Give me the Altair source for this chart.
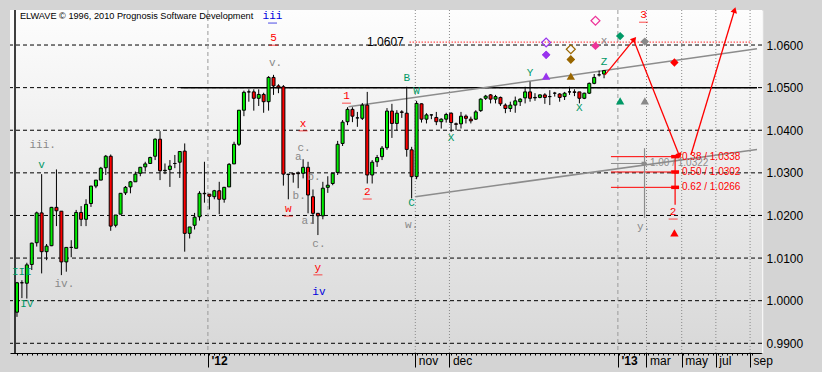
import json
import altair as alt
import pandas as pd

# ---------------- data ----------------
opens = [0.9973, 1.0042, 1.0041, 1.0085, 1.0136, 1.0206, 1.0115, 1.0129, 1.0219, 1.0210,
         1.0091, 1.0125, 1.0123, 1.0207, 1.0191, 1.0228, 1.0269, 1.0283, 1.0312, 1.0339,
         1.0177, 1.0203, 1.0253, 1.0267, 1.0279, 1.0299, 1.0314, 1.0322, 1.0339, 1.0379,
         1.0305, 1.0308, 1.0322, 1.0325, 1.0351, 1.0158, 1.0177, 1.0197, 1.0252, 1.0250,
         1.0244, 1.0258, 1.0238, 1.0267, 1.0321, 1.0367, 1.0447, 1.0490, 1.0490, 1.0475,
         1.0484, 1.0467, 1.0524, 1.0504, 1.0502, 1.0296, 1.0298, 1.0299, 1.0299, 1.0313,
         1.0244, 1.0205, 1.0199, 1.0266, 1.0275, 1.0301, 1.0369, 1.0420, 1.0449, 1.0429,
         1.0428, 1.0459, 1.0295, 1.0326, 1.0338, 1.0359, 1.0445, 1.0416, 1.0443, 1.0440,
         1.0354, 1.0291, 1.0462, 1.0426, 1.0436, 1.0430, 1.0420, 1.0426, 1.0440, 1.0415,
         1.0415, 1.0433, 1.0426, 1.0426, 1.0446, 1.0475, 1.0483, 1.0473, 1.0477, 1.0459,
         1.0451, 1.0459, 1.0467, 1.0476, 1.0490, 1.0477, 1.0477, 1.0483, 1.0479, 1.0487,
         1.0485, 1.0479, 1.0490, 1.0490, 1.0490, 1.0475, 1.0487, 1.0510, 1.0530, 1.0532]
highs = [1.0044, 1.0048, 1.0089, 1.0136, 1.0209, 1.0297, 1.0133, 1.0220, 1.0308, 1.0210,
         1.0126, 1.0142, 1.0213, 1.0222, 1.0238, 1.0269, 1.0283, 1.0314, 1.0342, 1.0343,
         1.0201, 1.0252, 1.0269, 1.0281, 1.0303, 1.0314, 1.0326, 1.0338, 1.0381, 1.0398,
         1.0322, 1.0330, 1.0342, 1.0351, 1.0369, 1.0173, 1.0206, 1.0257, 1.0326, 1.0250,
         1.0260, 1.0279, 1.0267, 1.0323, 1.0373, 1.0447, 1.0493, 1.0496, 1.0496, 1.0496,
         1.0488, 1.0527, 1.0530, 1.0508, 1.0506, 1.0297, 1.0300, 1.0303, 1.0332, 1.0326,
         1.0261, 1.0206, 1.0279, 1.0292, 1.0300, 1.0375, 1.0424, 1.0454, 1.0454, 1.0443,
         1.0464, 1.0490, 1.0330, 1.0342, 1.0363, 1.0452, 1.0462, 1.0447, 1.0447, 1.0502,
         1.0361, 1.0469, 1.0463, 1.0440, 1.0437, 1.0443, 1.0428, 1.0441, 1.0442, 1.0418,
         1.0443, 1.0437, 1.0432, 1.0447, 1.0475, 1.0483, 1.0485, 1.0483, 1.0479, 1.0463,
         1.0467, 1.0479, 1.0475, 1.0502, 1.0514, 1.0487, 1.0484, 1.0487, 1.0494, 1.0490,
         1.0487, 1.0490, 1.0502, 1.0496, 1.0490, 1.0488, 1.0512, 1.0532, 1.0540, 1.0541]
lows = [0.9962, 1.0006, 1.0005, 1.0072, 1.0127, 1.0064, 1.0095, 1.0128, 1.0175, 1.0060,
        1.0068, 1.0102, 1.0123, 1.0175, 1.0175, 1.0220, 1.0264, 1.0283, 1.0295, 1.0164,
        1.0172, 1.0203, 1.0248, 1.0252, 1.0279, 1.0292, 1.0303, 1.0321, 1.0330, 1.0283,
        1.0297, 1.0267, 1.0311, 1.0288, 1.0115, 1.0146, 1.0167, 1.0188, 1.0230, 1.0214,
        1.0238, 1.0203, 1.0230, 1.0267, 1.0321, 1.0363, 1.0433, 1.0467, 1.0446, 1.0457,
        1.0441, 1.0446, 1.0483, 1.0487, 1.0270, 1.0238, 1.0277, 1.0264, 1.0287, 1.0205,
        1.0180, 1.0154, 1.0191, 1.0253, 1.0271, 1.0295, 1.0363, 1.0412, 1.0419, 1.0408,
        1.0424, 1.0275, 1.0275, 1.0314, 1.0330, 1.0354, 1.0382, 1.0400, 1.0429, 1.0338,
        1.0240, 1.0285, 1.0418, 1.0416, 1.0426, 1.0412, 1.0404, 1.0418, 1.0396, 1.0400,
        1.0404, 1.0416, 1.0416, 1.0424, 1.0443, 1.0471, 1.0463, 1.0463, 1.0457, 1.0440,
        1.0443, 1.0441, 1.0457, 1.0463, 1.0467, 1.0469, 1.0475, 1.0462, 1.0459, 1.0479,
        1.0467, 1.0471, 1.0483, 1.0480, 1.0463, 1.0473, 1.0485, 1.0508, 1.0526, 1.0522]
closes = [1.0042, 1.0042, 1.0084, 1.0135, 1.0206, 1.0115, 1.0128, 1.0219, 1.0211, 1.0091,
          1.0125, 1.0125, 1.0207, 1.0191, 1.0226, 1.0269, 1.0283, 1.0311, 1.0339, 1.0175,
          1.0201, 1.0252, 1.0266, 1.0279, 1.0297, 1.0313, 1.0321, 1.0336, 1.0379, 1.0305,
          1.0306, 1.0316, 1.0322, 1.0350, 1.0158, 1.0173, 1.0196, 1.0252, 1.0251, 1.0245,
          1.0258, 1.0238, 1.0266, 1.0320, 1.0367, 1.0447, 1.0489, 1.0490, 1.0475, 1.0484,
          1.0467, 1.0524, 1.0504, 1.0500, 1.0297, 1.0297, 1.0297, 1.0298, 1.0313, 1.0248,
          1.0205, 1.0199, 1.0264, 1.0271, 1.0299, 1.0367, 1.0419, 1.0449, 1.0433, 1.0429,
          1.0459, 1.0295, 1.0325, 1.0336, 1.0358, 1.0445, 1.0416, 1.0440, 1.0442, 1.0355,
          1.0291, 1.0463, 1.0426, 1.0436, 1.0436, 1.0420, 1.0426, 1.0437, 1.0418, 1.0414,
          1.0433, 1.0428, 1.0422, 1.0443, 1.0473, 1.0480, 1.0473, 1.0479, 1.0462, 1.0451,
          1.0459, 1.0469, 1.0473, 1.0490, 1.0475, 1.0476, 1.0483, 1.0477, 1.0479, 1.0487,
          1.0477, 1.0487, 1.0490, 1.0489, 1.0475, 1.0487, 1.0510, 1.0524, 1.0530, 1.0540]
bar_index = list(range(len(opens)))

price_levels = [0.99, 1.00, 1.01, 1.02, 1.03, 1.04, 1.05, 1.06]
tick_pos = [38.7, 80.74, 87.66, 121.8, 127.6, 134.74, 141.66, 148.6]
tick_txt = ["'12", "nov", "dec", "'13", "mar", "may", "jul", "sep"]
year_txt = ["'12", "'13"]
minor_ticks = list(range(0, 150))

# trend lines (bar index, price)
trend_x1 = [67.2, 80.74]
trend_p1 = [1.0455, 1.0244]
trend_x2 = [150.0, 150.0]
trend_p2 = [1.0591, 1.0355]

# horizontal reference levels
ref_level = [1.0500]
ref_from = [33.2]
target_level = [1.0607]
target_from = [79.6]
target_to = [149.0]

# projected retracements
fib_text = ["0.38 / 1.0338", "0.50 / 1.0302", "0.62 / 1.0266"]
fib_level = [1.0338, 1.0302, 1.0266]
alt_text = ["1.00 / 1.0322"]
alt_level = [1.0322]

# projection arrows
arrow_x1 = [119.2, 125.0, 136.6]
arrow_p1 = [1.0530, 1.0612, 1.0342]
arrow_x2 = [125.0, 134.2, 145.4]
arrow_p2 = [1.0612, 1.0342, 1.0680]
arrow_angle = [40, 159, 17]

# target markers
mk_x = [107.26, 107.26, 112.26, 112.26, 117.26, 122.26, 127.26, 133.26,
        107.26, 112.26, 122.26, 127.26, 133.26, 117.26, 107.26, 112.26]
mk_p = [1.0577, 1.0577, 1.0566, 1.0566, 1.0598, 1.0621, 1.0608, 1.0559,
        1.0527, 1.0527, 1.0469, 1.0469, 1.0159, 1.0657, 1.0606, 1.0590]
mk_shape = ["diamond", "diamond", "diamond", "diamond", "diamond", "diamond", "diamond", "diamond",
            "triangle-up", "triangle-up", "triangle-up", "triangle-up", "triangle-up",
            "diamond", "diamond", "diamond"]
mk_color = ["#9933ee", "#9933ee", "#996600", "#996600", "#ee3399", "#009966", "#888888", "#ff0000",
            "#9933ee", "#996600", "#009966", "#888888", "#ff0000",
            "#ee3399", "#9933ee", "#996600"]
mk_filled = [True, True, True, True, True, True, True, True,
             True, True, True, True, True,
             False, False, False]

# wave labels
wl_text = ["iii", "5", "v.", "iii.", "v", "III", "IV", "iv.", "w", "x", "y", "iv",
           "c.", "a", "b.", "b.", "a.", "c.", "1", "2", "B", "W", "C", "w.",
           "X", "Y", "X", "Z", "x", "3", "2", "y."]
wl_x = [51.8, 52.0, 52.4, 5.2, 5.0, 1.0, 2.0, 9.6, 55.0, 58.0, 61.0, 61.2,
        58.2, 57.0, 57.2, 60.2, 59.0, 61.2, 66.8, 71.0, 79.0, 81.0, 80.0, 80.0,
        88.0, 104.0, 114.0, 119.0, 119.0, 127.0, 133.0, 127.0]
wl_p = [1.0668, 1.0616, 1.0558, 1.0365, 1.0318, 1.0067, 0.9992, 1.0039, 1.0215, 1.0415, 1.0077, 1.0020,
        1.0358, 1.0337, 1.0246, 1.0290, 1.0187, 1.0133, 1.0480, 1.0255, 1.0523, 1.0492, 1.0229, 1.0177,
        1.0382, 1.0534, 1.0452, 1.0560, 1.0609, 1.0670, 1.0208, 1.0173]
wl_color = ["#0000dd", "#ff0000", "#888888", "#888888", "#009966", "#009966", "#009966", "#888888",
            "#ff0000", "#ff0000", "#ff0000", "#0000dd",
            "#888888", "#888888", "#888888", "#888888", "#888888", "#888888", "#ff0000", "#ff0000",
            "#009966", "#009966", "#009966", "#888888",
            "#009966", "#009966", "#009966", "#009966", "#888888", "#ff0000", "#ff0000", "#888888"]
wl_under = [True, True, False, False, False, False, False, False, True, True, True, False,
            False, False, False, False, False, False, True, True, False, False, False, False,
            False, False, False, False, False, True, True, False]

credit = "ELWAVE \u00a9 1996, 2010 Prognosis Software Development"

# ---------------- chart ----------------
W, H = 752, 343
xs = alt.Scale(domain=[-0.4, 150], nice=False, zero=False)
ys = alt.Scale(domain=[0.98772, 1.06822], nice=False, zero=False)


def X(f):
    return alt.X(f, scale=xs, axis=None, title=None)


def Y(f):
    return alt.Y(f, scale=ys, axis=None, title=None)


df = pd.DataFrame({"i": bar_index, "open": opens, "high": highs, "low": lows, "close": closes})
df["dir"] = ["up" if c > o else ("down" if c < o else "flat") for o, c in zip(opens, closes)]

bold_test = " || ".join("datum.value == %s" % v for v, t in zip(tick_pos, tick_txt) if t in year_txt)
label_expr = "".join("datum.value == %s ? %s : " % (v, json.dumps(t)) for v, t in zip(tick_pos, tick_txt)) + "''"

minor_axis = alt.Axis(orient="bottom", values=minor_ticks, tickSize=2, tickColor="black", tickWidth=1,
                      domainColor="black", domainWidth=1, labels=False, grid=False)
label_axis = alt.Axis(orient="bottom", values=tick_pos, tickSize=14, tickColor="black", tickWidth=1,
                      domain=False, labelExpr=label_expr, labelAlign="left", labelOffset=3,
                      labelPadding=-12, labelBaseline="top", labelOverlap=False, labelFlush=False,
                      labelBound=False, labelFontSize=12, labelFont="Liberation Sans", labelColor="black",
                      labelFontWeight={"condition": {"test": bold_test, "value": "bold"}, "value": "normal"},
                      grid=False)
y_axis = alt.Axis(orient="right", values=price_levels, format=".4f", ticks=False, grid=False,
                  domainColor="#f6f6f6", domainWidth=1.5, labelPadding=4, labelFontSize=12,
                  labelFont="Liberation Sans", labelColor="black", labelOverlap=False,
                  labelFlush=False, labelBound=False)

bg = alt.Chart(pd.DataFrame({"k": [0]})).mark_rect(
    fill=alt.LinearGradient(gradient="linear",
                            stops=[alt.GradientStop(color="#fdfdfd", offset=0),
                                   alt.GradientStop(color="#d8d8d8", offset=1)],
                            x1=0, x2=0, y1=0, y2=1)
).encode(x=alt.value(0), x2=alt.value(W), y=alt.value(0), y2=alt.value(H))

hgrid = alt.Chart(pd.DataFrame({"p": price_levels})).mark_rule(
    color="black", strokeDash=[4, 3], strokeWidth=1).encode(y=Y("p:Q"))

year_pos = [v for v, t in zip(tick_pos, tick_txt) if t in year_txt]
month_pos = [v for v, t in zip(tick_pos, tick_txt) if t not in year_txt]
vdash = alt.Chart(pd.DataFrame({"x": year_pos})).mark_rule(
    color="#9a9a9a", strokeDash=[4, 3], strokeWidth=1).encode(x=X("x:Q"))
vdot = alt.Chart(pd.DataFrame({"x": month_pos})).mark_rule(
    color="#8a8a8a", strokeDash=[1, 2], strokeWidth=1).encode(x=X("x:Q"))
left_border = alt.Chart(pd.DataFrame({"x": [-0.4]})).mark_rule(
    color="black", strokeWidth=1.5).encode(x=X("x:Q"))
label_holder = alt.Chart(pd.DataFrame({"x": tick_pos})).mark_point(opacity=0).encode(
    x=alt.X("x:Q", scale=xs, axis=label_axis, title=None))

ref_line = alt.Chart(pd.DataFrame({"x1": ref_from, "x2": [150.0], "p": ref_level})).mark_rule(
    color="black", strokeWidth=1.5).encode(x=X("x1:Q"), x2="x2:Q", y=Y("p:Q"))
target_line = alt.Chart(pd.DataFrame({"x1": target_from, "x2": target_to, "p": target_level})).mark_rule(
    color="#ff0000", strokeDash=[1, 2], strokeWidth=1.2).encode(x=X("x1:Q"), x2="x2:Q", y=Y("p:Q"))
target_text = alt.Chart(pd.DataFrame({"x": [78.4], "p": target_level,
                                      "t": ["%.4f" % v for v in target_level]})).mark_text(
    align="right", baseline="middle", fontSize=12, font="Liberation Sans", color="black").encode(
    x=X("x:Q"), y=Y("p:Q"), text="t:N")

trend = alt.Chart(pd.DataFrame({"x1": trend_x1, "p1": trend_p1, "x2": trend_x2, "p2": trend_p2})).mark_rule(
    color="#8c8c8c", strokeWidth=1.5).encode(x=X("x1:Q"), y=Y("p1:Q"), x2="x2:Q", y2="p2:Q")

fib_df = pd.DataFrame({"x1": [120.4] * 3, "x2": [134.2] * 3, "m1": [132.6] * 3,
                       "tx": [134.8] * 3, "p": fib_level, "t": fib_text})
fib_lines = alt.Chart(fib_df).mark_rule(color="#ff0000", strokeWidth=1).encode(
    x=X("x1:Q"), x2="x2:Q", y=Y("p:Q"))
fib_marks = alt.Chart(fib_df).mark_rule(color="#ff0000", strokeWidth=3.5).encode(
    x=X("m1:Q"), x2="x2:Q", y=Y("p:Q"))
fib_vert = alt.Chart(pd.DataFrame({"x": [133.4], "p1": [fib_level[0]], "p2": [1.0225]})).mark_rule(
    color="#ff0000", strokeWidth=1.2).encode(x=X("x:Q"), y=Y("p1:Q"), y2="p2:Q")
fib_txt = alt.Chart(fib_df).mark_text(align="left", baseline="middle", fontSize=10,
                                      font="Liberation Sans", color="#ff0000").encode(
    x=X("tx:Q"), y=Y("p:Q"), text="t:N")

alt_df = pd.DataFrame({"x1": [120.4], "x2": [127.6], "m1": [126.6], "tx": [128.3],
                       "p": alt_level, "t": alt_text})
alt_line = alt.Chart(alt_df).mark_rule(color="#8c8c8c", strokeWidth=1).encode(
    x=X("x1:Q"), x2="x2:Q", y=Y("p:Q"))
alt_mark = alt.Chart(alt_df).mark_rule(color="#8c8c8c", strokeWidth=3.5).encode(
    x=X("m1:Q"), x2="x2:Q", y=Y("p:Q"))
alt_vert = alt.Chart(pd.DataFrame({"x": [127.2], "p1": [1.0358], "p2": [1.0194]})).mark_rule(
    color="#8c8c8c", strokeWidth=1.2).encode(x=X("x:Q"), y=Y("p1:Q"), y2="p2:Q")
alt_txt = alt.Chart(alt_df).mark_text(align="left", baseline="middle", fontSize=10,
                                      font="Liberation Sans", color="#8c8c8c").encode(
    x=X("tx:Q"), y=Y("p:Q"), text="t:N")

wicks = alt.Chart(df).mark_rule(color="black", strokeWidth=1).encode(
    x=alt.X("i:Q", scale=xs, axis=minor_axis, title=None),
    y=alt.Y("low:Q", scale=ys, axis=y_axis, title=None),
    y2="high:Q")
bodies = alt.Chart(df).mark_bar(size=3, stroke="black", strokeWidth=1).encode(
    x=X("i:Q"), y=Y("open:Q"), y2="close:Q",
    color=alt.Color("dir:N", scale=alt.Scale(domain=["up", "down", "flat"],
                                             range=["#00ee00", "#ff0000", "#000000"]), legend=None))

arr_df = pd.DataFrame({"x1": arrow_x1, "p1": arrow_p1, "x2": arrow_x2, "p2": arrow_p2, "ang": arrow_angle})
arrows = alt.Chart(arr_df).mark_rule(color="#ff0000", strokeWidth=1.3).encode(
    x=X("x1:Q"), y=Y("p1:Q"), x2="x2:Q", y2="p2:Q")
heads = alt.Chart(arr_df).mark_point(shape="triangle", filled=True, size=45, color="#ff0000", opacity=1).encode(
    x=X("x2:Q"), y=Y("p2:Q"), angle=alt.Angle("ang:Q", scale=None))

mk_df = pd.DataFrame({"x": mk_x, "p": mk_p, "s": mk_shape, "c": mk_color, "f": mk_filled})
mk_fill = alt.Chart(mk_df[mk_df["f"]]).mark_point(filled=True, size=70, opacity=1).encode(
    x=X("x:Q"), y=Y("p:Q"), shape=alt.Shape("s:N", scale=None), color=alt.Color("c:N", scale=None))
mk_hollow = alt.Chart(mk_df[~mk_df["f"]]).mark_point(filled=False, size=80, strokeWidth=1.2, opacity=1).encode(
    x=X("x:Q"), y=Y("p:Q"), shape=alt.Shape("s:N", scale=None), color=alt.Color("c:N", scale=None))

wl_df = pd.DataFrame({"x": wl_x, "p": wl_p, "t": wl_text, "c": wl_color, "u": wl_under})
wl_txt = alt.Chart(wl_df).mark_text(align="center", baseline="middle", fontSize=11,
                                    font="Liberation Mono").encode(
    x=X("x:Q"), y=Y("p:Q"), text="t:N", color=alt.Color("c:N", scale=None))
wl_ul = alt.Chart(wl_df[wl_df["u"]]).mark_tick(orient="horizontal", size=9, thickness=1, yOffset=7).encode(
    x=X("x:Q"), y=Y("p:Q"), color=alt.Color("c:N", scale=None))

credit_txt = alt.Chart(pd.DataFrame({"x": [0.6], "p": [1.0668], "t": [credit]})).mark_text(
    align="left", baseline="middle", fontSize=9.2, font="Liberation Sans", color="black").encode(
    x=X("x:Q"), y=Y("p:Q"), text="t:N")

chart = alt.layer(
    bg, hgrid, vdash, vdot, ref_line, target_line, trend,
    fib_lines, fib_marks, fib_vert, alt_line, alt_mark, alt_vert,
    wicks, bodies, left_border, label_holder, arrows, heads, mk_fill, mk_hollow,
    target_text, fib_txt, alt_txt, wl_txt, wl_ul, credit_txt
).resolve_axis(x="independent", y="independent").properties(
    width=W, height=H,
    padding={"left": 10, "top": 10, "right": 60, "bottom": 19},
    autosize=alt.AutoSizeParams(type="none"),
    background="#d4d4d4",
).configure_view(stroke=None)

chart.save("out.html", embed_options={"renderer": "svg", "actions": False})
